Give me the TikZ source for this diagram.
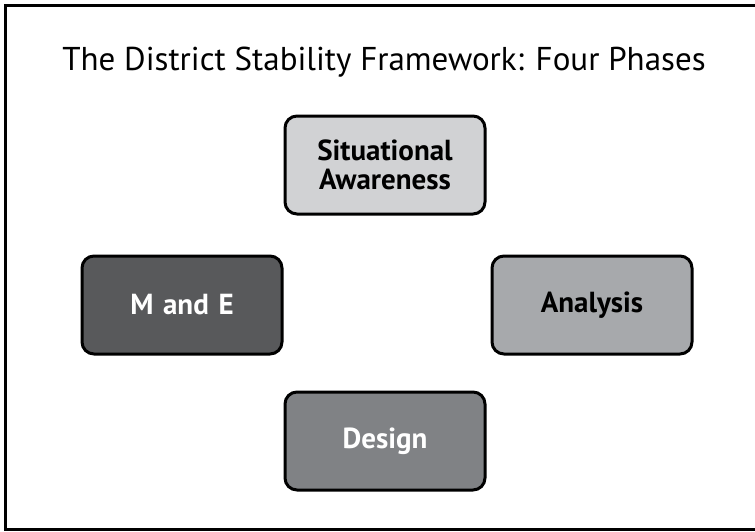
\documentclass[tikz,border=0pt]{standalone}
\usepackage{fontspec}
\setmainfont{PT Sans}
\definecolor{phaseA}{HTML}{D1D2D4}
\definecolor{phaseB}{HTML}{A7A9AC}
\definecolor{phaseC}{HTML}{808285}
\definecolor{phaseD}{HTML}{58595B}
\tikzstyle{phase} = [rectangle, draw, line width=3pt, rounded corners=12pt, text width=190pt, align=center, minimum width=200pt, minimum height=98pt, font=\fontsize{29}{29}\selectfont\bfseries]

\begin{document}
\begin{tikzpicture}[x=1pt, y=-1pt]
    \useasboundingbox (0,0) rectangle (755,531);
    \clip (0,0) rectangle (755,531);
    % Frame and title
    \draw [line width=3pt] (5.5,5.5) rectangle (770,529.5);
    \node (title) at (384,62) {\fontsize{33}{40}\selectfont The District Stability Framework: Four Phases};
    % Place nodes
    \node [phase, fill=phaseA] (aware) at (385,165) {Situational\\Awareness};
    \node [phase, fill=phaseB] (analysis) at (592,305) {Analysis};
    \node [phase, fill=phaseC, text=white] (design) at (385,441) {Design};
    \node [phase, fill=phaseD, text=white] (me) at (182,305) {M and E};
\end{tikzpicture}
\end{document}
